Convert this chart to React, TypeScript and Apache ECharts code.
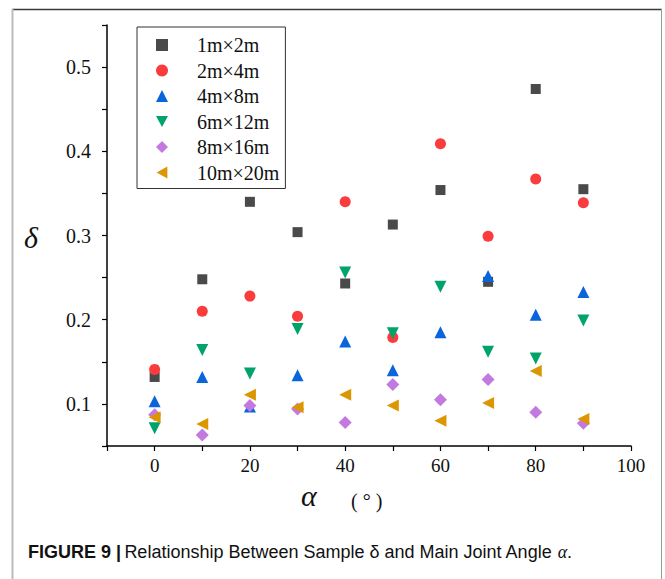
import React, { useEffect, useRef } from "react";
import * as echarts from "echarts";

const angles = [0, 10, 20, 30, 40, 50, 60, 70, 80, 90];
const seriesNames = ["1m×2m", "2m×4m", "4m×8m", "6m×12m", "8m×16m", "10m×20m"];
const s1 = [0.132, 0.248, 0.340, 0.304, 0.243, 0.313, 0.354, 0.245, 0.474, 0.355];
const s2 = [0.141, 0.210, 0.228, 0.204, 0.340, 0.179, 0.409, 0.299, 0.367, 0.339];
const s3 = [0.103, 0.132, 0.097, 0.134, 0.174, 0.140, 0.185, 0.252, 0.206, 0.233];
const s4 = [0.071, 0.164, 0.136, 0.189, 0.256, 0.184, 0.239, 0.162, 0.154, 0.199];
const s5 = [0.087, 0.063, 0.098, 0.094, 0.078, 0.123, 0.105, 0.129, 0.090, 0.077];
const s6 = [0.084, 0.076, 0.111, 0.096, 0.111, 0.098, 0.080, 0.101, 0.139, 0.082];
const allValues = [s1, s2, s3, s4, s5, s6];
const colors = ["#4a4a4a", "#fa3c3c", "#0a64dc", "#00a36a", "#c27ae0", "#dc9600"];
const symbols = ["rect", "circle", "triangle", "triangle", "diamond", "triangle"];
const legendIcons = ["rect", "circle", "triangle", "path://M0,0L10,0L5,9Z", "diamond", "path://M9,0L9,10L0,5Z"];
const rotations = [0, 0, 0, 180, 0, 90];
const sizes = [10, 11, 12, 12, 13, 12];
const xTickLabels = ["0", "20", "40", "60", "80", "100"];
const yTickLabels = ["0.1", "0.2", "0.3", "0.4", "0.5"];
const caption = "Relationship Between Sample δ and Main Joint Angle ";

export default function App() {
  const ref = useRef<HTMLDivElement>(null);
  useEffect(() => {
    document.body.style.margin = "0";
    const chart = echarts.init(ref.current!, null, { renderer: "svg" });
    const serif = "'Liberation Serif', 'DejaVu Serif', serif";
    chart.setOption({
      animation: false,
      backgroundColor: "#ffffff",
      grid: { left: 107, right: 34, top: 25, bottom: 133, containLabel: false },
      legend: {
        orient: "vertical",
        left: 137,
        top: 27,
        padding: [8, 6, 6, 19],
        borderColor: "#333",
        borderWidth: 1,
        itemWidth: 12,
        itemHeight: 12,
        itemGap: 5.5,
        textStyle: { fontFamily: serif, fontSize: 20, color: "#111", padding: [0, 0, 0, 24], lineHeight: 20 },
        data: seriesNames.map((n, i) => ({ name: n, icon: legendIcons[i] })),
      },
      xAxis: {
        type: "value",
        min: -10,
        max: 100,
        interval: 10,
        splitLine: { show: false },
        axisLine: { show: true, onZero: false, lineStyle: { color: "#000", width: 1.5 } },
        axisTick: { show: true, inside: false, length: 5, lineStyle: { color: "#000", width: 1.2 } },
        axisLabel: {
          fontFamily: serif,
          fontSize: 19,
          color: "#111",
          margin: 10,
          formatter: (v: number) => {
            const s = String(Math.round(v));
            return xTickLabels.includes(s) ? s : "";
          },
        },
      },
      yAxis: {
        type: "value",
        min: 0.05,
        max: 0.55,
        interval: 0.05,
        splitLine: { show: false },
        axisLine: { show: true, onZero: false, lineStyle: { color: "#000", width: 1.5 } },
        axisTick: { show: true, inside: false, length: 5, lineStyle: { color: "#000", width: 1.2 } },
        axisLabel: {
          fontFamily: serif,
          fontSize: 20,
          color: "#111",
          margin: 16,
          formatter: (v: number) => {
            const s = v.toFixed(2);
            const t = v.toFixed(1);
            return s.endsWith("0") && yTickLabels.includes(t) ? t : "";
          },
        },
      },
      series: seriesNames.map((name, i) => ({
        name,
        type: "scatter",
        symbol: symbols[i],
        symbolRotate: rotations[i],
        symbolSize: sizes[i],
        itemStyle: { color: colors[i], opacity: 1 },
        data: angles.map((a, j) => [a, allValues[i][j]]),
        z: 2 + i,
      })),
      graphic: [
        { type: "line", shape: { x1: 12, y1: 9.5, x2: 662, y2: 9.5 }, style: { stroke: "#3a3a3a", lineWidth: 1.5 } },
        { type: "line", shape: { x1: 12.5, y1: 9, x2: 12.5, y2: 579 }, style: { stroke: "#bbbbbb", lineWidth: 2 } },
        { type: "line", shape: { x1: 661.5, y1: 9, x2: 661.5, y2: 579 }, style: { stroke: "#999999", lineWidth: 1 } },
        {
          type: "text",
          left: 24,
          top: 222,
          style: { text: "δ", fontFamily: "Liberation Serif", fontStyle: "italic", fontSize: 30, fill: "#111" },
        },
        {
          type: "text",
          left: 301,
          top: 480,
          style: { text: "α", fontFamily: "Liberation Serif", fontStyle: "italic", fontSize: 30, fill: "#111" },
        },
        {
          type: "text",
          left: 351,
          top: 491,
          style: { text: "( ° )", fontFamily: "Liberation Serif", fontSize: 20, fill: "#111" },
        },
        {
          type: "text",
          left: 28,
          top: 543,
          style: {
            text: "{b|FIGURE 9 |} {r|" + caption + "}{a|α}{r|.}",
            rich: {
              b: { fontFamily: "'Liberation Sans Narrow', 'Liberation Sans', sans-serif", fontWeight: "bold", fontSize: 18, fill: "#111" },
              r: { fontFamily: "'Liberation Sans Narrow', 'Liberation Sans', sans-serif", fontSize: 18, fill: "#111" },
              a: { fontFamily: "'Liberation Serif', serif", fontStyle: "italic", fontSize: 18, fill: "#111" },
            },
          },
        },
      ],
    });
    return () => chart.dispose();
  }, []);
  return <div ref={ref} style={{ width: 665, height: 579, position: "absolute", left: 0, top: 0 }} />;
}
